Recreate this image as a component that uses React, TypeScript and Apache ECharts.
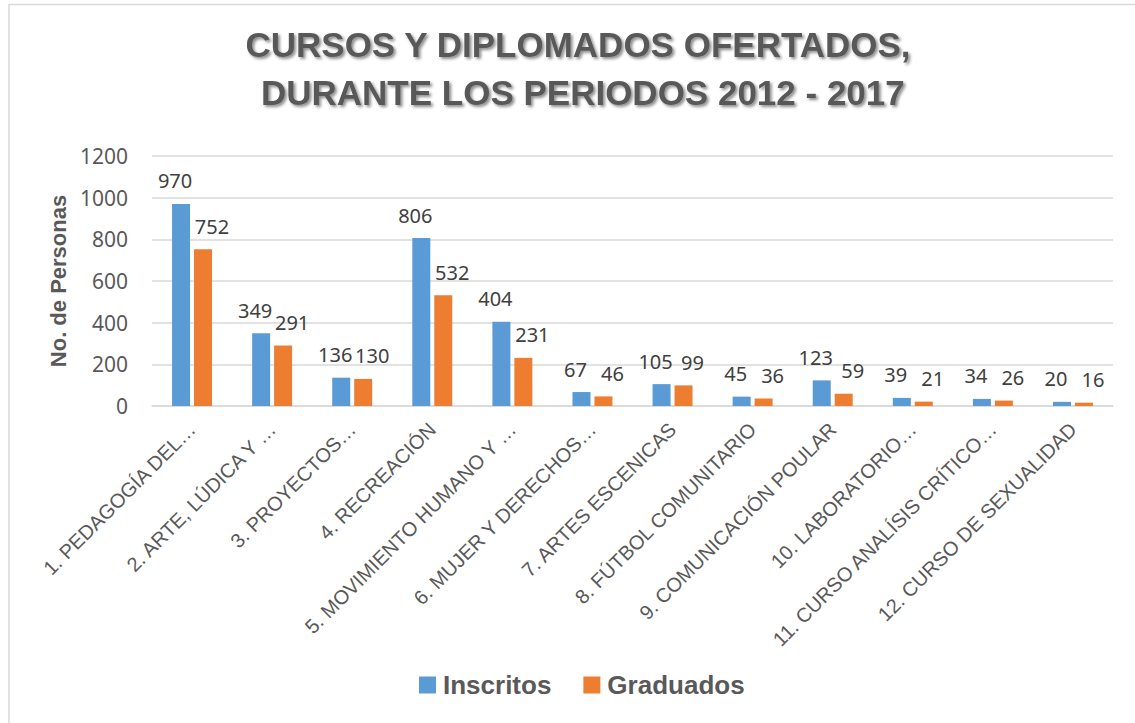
import React, { useEffect, useRef } from "react";
import * as echarts from "echarts";

const categories = [
  "1. PEDAGOGÍA DEL…",
  "2. ARTE, LÚDICA Y …",
  "3. PROYECTOS…",
  "4. RECREACIÓN",
  "5. MOVIMIENTO HUMANO Y …",
  "6. MUJER Y DERECHOS…",
  "7. ARTES ESCENICAS",
  "8. FÚTBOL COMUNITARIO",
  "9. COMUNICACIÓN POULAR",
  "10. LABORATORIO…",
  "11. CURSO ANALÍSIS CRÍTICO…",
  "12. CURSO DE SEXUALIDAD",
];
const inscritos = [970, 349, 136, 806, 404, 67, 105, 45, 123, 39, 34, 20];
const graduados = [752, 291, 130, 532, 231, 46, 99, 36, 59, 21, 26, 16];
const seriesNames = ["Inscritos", "Graduados"];
const titleText = "CURSOS Y DIPLOMADOS OFERTADOS,\n DURANTE LOS PERIODOS 2012 - 2017";
const yAxisName = "No. de Personas";

const BLUE = "#5B9BD5";
const ORANGE = "#ED7D31";
const GRAY = "#595959";
const SANS = "'Liberation Sans', Arial, sans-serif";

export default function App() {
  const ref = useRef<HTMLDivElement>(null);
  useEffect(() => {
    if (!ref.current) return;
    const chart = echarts.init(ref.current, undefined, { renderer: "svg" });
    const labelStyle = (dx: number) => ({
      show: true,
      position: "top" as const,
      distance: 13,
      offset: [dx, 0],
      fontSize: 20,
      fontFamily: "'Noto Sans', sans-serif",
      color: "#404040",
    });
    chart.setOption({
      animation: false,
      backgroundColor: "#ffffff",
      title: {
        text: titleText,
        left: 578,
        top: 20,
        padding: 0,
        textAlign: "center",
        textStyle: {
          fontFamily: SANS,
          fontWeight: "bold",
          fontSize: 35,
          lineHeight: 48,
          color: GRAY,
          textShadowColor: "rgba(0,0,0,0.45)",
          textShadowBlur: 3,
          textShadowOffsetX: 2,
          textShadowOffsetY: 2,
        },
      },
      graphic: [
        {
          type: "rect",
          silent: true,
          shape: { x: 9, y: 4.5, width: 1140, height: 740 },
          style: { fill: "none", stroke: "#D9D9D9", lineWidth: 1.5 },
        },
      ],
      legend: {
        data: seriesNames,
        left: 419,
        top: 672,
        padding: 0,
        icon: "rect",
        itemWidth: 17,
        itemHeight: 17,
        itemGap: 32,
        textStyle: {
          fontFamily: SANS,
          fontWeight: "bold",
          fontSize: 26,
          color: GRAY,
          padding: [0, 0, 0, 2],
        },
      },
      grid: { left: 152, right: 22, top: 156, bottom: 317, containLabel: false },
      xAxis: {
        type: "category",
        data: categories,
        axisTick: { show: false },
        axisLine: { lineStyle: { color: "#D9D9D9", width: 1.5 } },
        axisLabel: {
          interval: 0,
          rotate: 45,
          margin: 20,
          fontSize: 20,
          fontFamily: SANS,
          color: GRAY,
        },
      },
      yAxis: {
        type: "value",
        min: 0,
        max: 1200,
        interval: 200,
        name: yAxisName,
        nameLocation: "middle",
        nameGap: 78,
        nameTextStyle: {
          fontFamily: SANS,
          fontWeight: "bold",
          fontSize: 22,
          color: GRAY,
        },
        axisLine: { show: false },
        axisTick: { show: false },
        axisLabel: {
          margin: 24,
          fontSize: 21,
          fontFamily: "'Noto Sans', sans-serif",
          color: GRAY,
          formatter: (v: number) => String(v),
        },
        splitLine: { lineStyle: { color: "#D9D9D9", width: 1.5 } },
      },
      series: [
        {
          name: seriesNames[0],
          type: "bar",
          data: inscritos,
          barWidth: 18,
          barGap: "22%",
          itemStyle: { color: BLUE },
          label: labelStyle(-6),
        },
        {
          name: seriesNames[1],
          type: "bar",
          data: graduados,
          barWidth: 18,
          itemStyle: { color: ORANGE },
          label: labelStyle(9),
        },
      ],
    });
    return () => chart.dispose();
  }, []);
  return (
    <div
      ref={ref}
      style={{ position: "absolute", left: 0, top: 0, width: 1135, height: 723, background: "#fff" }}
    />
  );
}
